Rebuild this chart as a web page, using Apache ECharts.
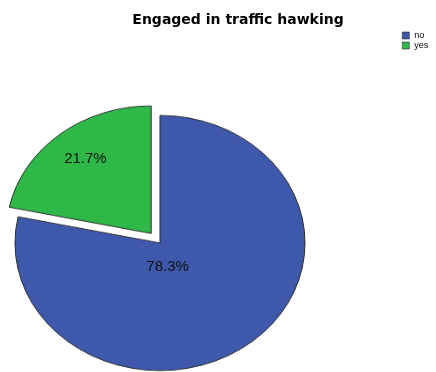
<!DOCTYPE html>
<html>
<head>
<meta charset="utf-8">
<script src="https://cdn.jsdelivr.net/npm/echarts@6/dist/echarts.min.js"></script>
<style>
html, body { margin: 0; padding: 0; background: #fff; }
#wrap { position: relative; width: 436px; height: 372px; overflow: hidden; }
#pieShape { position: absolute; left: 0; top: 0; width: 436px; height: 420px; }
#pieText { position: absolute; left: 0; top: 0; width: 436px; height: 372px; }
/* the original pie is a bit flattened, so squash the shape layer only */
#pieShape { transform: scaleY(0.88); transform-origin: 160px 243px; }
</style>
</head>
<body>
<div id="wrap">
  <div id="pieShape"></div>
  <div id="pieText"></div>
</div>
<script>
var categories = ['no', 'yes'];
var percents = [78.3, 21.7];
var explodedCategory = 'yes';

var palette = ['#3e58ac', '#2eb848'];

function basePie() {
  return {
    type: 'pie',
    center: [160, 243],
    radius: 145,
    startAngle: 90,
    clockwise: true,
    silent: true,
    emphasis: { disabled: true, scale: false },
    labelLine: { show: false }
  };
}

// layer 1: the slices, "yes" pulled out
var shapeChart = echarts.init(document.getElementById('pieShape'));
var shapeSeries = basePie();
shapeSeries.selectedMode = 'single';
shapeSeries.selectedOffset = 14;
shapeSeries.label = { show: false };
shapeSeries.itemStyle = { borderColor: '#2a2a2a', borderWidth: 1 };
shapeSeries.data = categories.map(function (name, i) {
  return { name: name, value: percents[i], selected: name === explodedCategory };
});
shapeChart.setOption({
  animation: false,
  color: palette,
  series: [shapeSeries]
});

// layer 2: title, legend and the percent labels
var labelShift = { no: [-40, -35], yes: [-27, -26] };
var textChart = echarts.init(document.getElementById('pieText'));
var textSeries = basePie();
textSeries.itemStyle = { opacity: 0, borderWidth: 0 };
textSeries.label = {
  show: true,
  position: 'inside',
  opacity: 1,
  color: '#111',
  fontFamily: 'Liberation Sans',
  fontSize: 15,
  formatter: function (p) { return p.value.toFixed(1) + '%'; }
};
textSeries.data = categories.map(function (name, i) {
  return { name: name, value: percents[i], label: { offset: labelShift[name] } };
});
textChart.setOption({
  animation: false,
  color: palette,
  title: {
    text: 'Engaged in traffic hawking',
    left: 233,
    top: 8,
    textAlign: 'center',
    textStyle: { fontFamily: 'DejaVu Sans', fontWeight: 'bold', fontSize: 14, color: '#000' }
  },
  legend: {
    orient: 'vertical',
    left: 402,
    top: 31,
    padding: 0,
    itemWidth: 7,
    itemHeight: 7,
    itemGap: 1,
    icon: 'rect',
    selectedMode: false,
    itemStyle: { opacity: 1, borderColor: '#2a2a2a', borderWidth: 0.6 },
    textStyle: { fontFamily: 'Liberation Sans', fontSize: 9, lineHeight: 8, color: '#000' },
    data: categories.map(function (name, i) {
      return { name: name, itemStyle: { color: palette[i], opacity: 1 } };
    })
  },
  series: [textSeries]
});
</script>
</body>
</html>
